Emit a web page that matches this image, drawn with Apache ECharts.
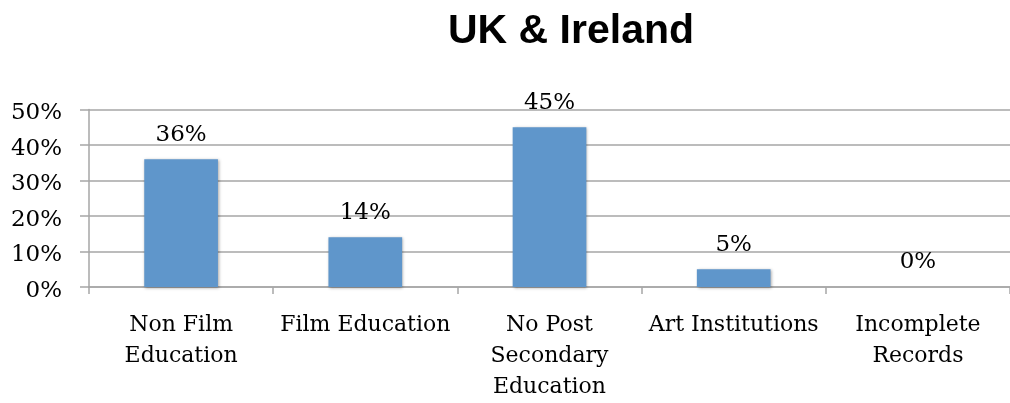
<!DOCTYPE html>
<html>
<head>
<meta charset="utf-8">
<script src="https://cdn.jsdelivr.net/npm/echarts@6/dist/echarts.min.js"></script>
<style>
  html, body { margin: 0; padding: 0; background: #fff; overflow: hidden; }
  #chart { width: 1010px; height: 403px; }
</style>
</head>
<body>
<div id="chart"></div>
<script>
// Share of filmmakers by education background
const categories = [
  'Non Film\nEducation',
  'Film Education',
  'No Post\nSecondary\nEducation',
  'Art Institutions',
  'Incomplete\nRecords'
];
const shares = [36, 14, 45, 5, 0];
const yTicks = [0, 10, 20, 30, 40, 50];

const serif = '"DejaVu Serif", serif';
const gridGrey = '#A6A6A6';

const chart = echarts.init(document.getElementById('chart'), null, { renderer: 'canvas', width: 1010, height: 403 });

chart.setOption({
  animation: false,
  backgroundColor: '#ffffff',
  title: {
    text: 'UK & Ireland',
    left: 566,
    top: 6,
    textAlign: 'center',
    textStyle: {
      fontFamily: '"Liberation Sans", Arial, sans-serif',
      fontWeight: 'bold',
      fontSize: 41,
      color: '#000'
    }
  },
  grid: {
    left: 89,
    top: 109.5,
    height: 183,
    width: 926,
    containLabel: false
  },
  xAxis: {
    type: 'category',
    data: categories,
    boundaryGap: true,
    axisLine: { show: true, lineStyle: { color: gridGrey, width: 1.5 } },
    axisTick: { show: true, length: 7, alignWithLabel: false, lineStyle: { color: gridGrey, width: 1.5 } },
    axisLabel: {
      interval: 0,
      margin: 23,
      fontFamily: serif,
      fontSize: 22,
      lineHeight: 31,
      color: '#000',
      align: 'center'
    }
  },
  yAxis: {
    type: 'value',
    min: yTicks[0],
    max: yTicks[yTicks.length - 1],
    interval: 10,
    axisLine: { show: true, lineStyle: { color: gridGrey, width: 1.5 } },
    axisTick: { show: true, length: 9, lineStyle: { color: gridGrey, width: 1.5 } },
    splitLine: { show: true, lineStyle: { color: gridGrey, width: 1.5 } },
    axisLabel: {
      margin: 27,
      fontFamily: serif,
      fontSize: 23,
      color: '#000',
      verticalAlign: 'top',
      lineHeight: 8,
      formatter: '{value}%'
    }
  },
  series: [{
    type: 'bar',
    data: shares,
    barWidth: '40%',
    itemStyle: {
      color: '#5F96CB',
      shadowColor: 'rgba(0,0,0,0.35)',
      shadowBlur: 3,
      shadowOffsetX: 1,
      shadowOffsetY: 1
    },
    label: {
      show: true,
      position: 'top',
      distance: 13,
      fontFamily: serif,
      fontSize: 23,
      color: '#000',
      formatter: p => p.value + '%'
    }
  }]
});
</script>
</body>
</html>
